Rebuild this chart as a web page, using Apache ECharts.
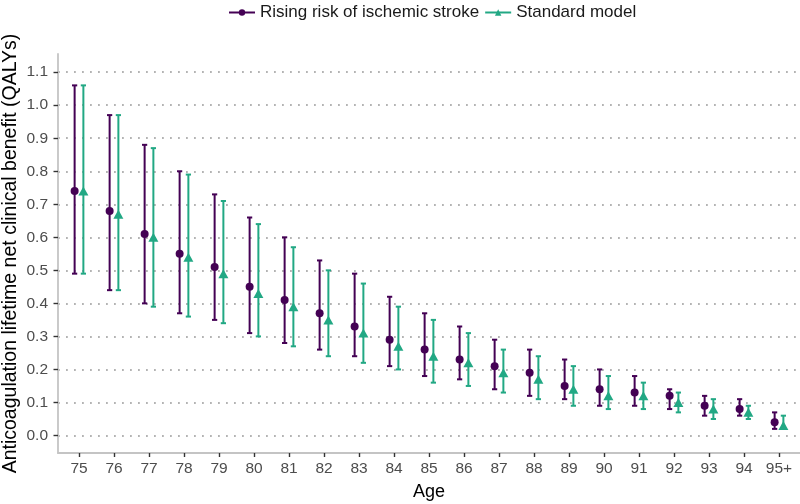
<!DOCTYPE html>
<html lang="en">
<head>
    <meta charset="UTF-8">
    <title>Anticoagulation net clinical benefit by age</title>
    <script src="https://cdn.jsdelivr.net/npm/echarts@6/dist/echarts.min.js"></script>
    <style>
        html, body { margin: 0; padding: 0; background: #fff; }
        #chart { width: 800px; height: 504px; }
    </style>
</head>
<body>
    <div id="chart"></div>

    <script>
    // data
    var ages = ['75', '76', '77', '78', '79', '80', '81', '82', '83', '84', '85',
                '86', '87', '88', '89', '90', '91', '92', '93', '94', '95+'];

    var risingMid  = [0.74, 0.68, 0.61, 0.55, 0.51, 0.45, 0.41, 0.37, 0.33, 0.29, 0.26,
                      0.23, 0.21, 0.19, 0.15, 0.14, 0.13, 0.12, 0.09, 0.08, 0.04];
    var risingLow  = [0.49, 0.44, 0.40, 0.37, 0.35, 0.31, 0.28, 0.26, 0.24, 0.21, 0.18,
                      0.17, 0.14, 0.12, 0.11, 0.09, 0.09, 0.08, 0.06, 0.06, 0.02];
    var risingHigh = [1.06, 0.97, 0.88, 0.80, 0.73, 0.66, 0.60, 0.53, 0.49, 0.42, 0.37,
                      0.33, 0.29, 0.26, 0.23, 0.20, 0.18, 0.14, 0.12, 0.11, 0.07];

    var stdMid  = [0.74, 0.67, 0.60, 0.54, 0.49, 0.43, 0.39, 0.35, 0.31, 0.27, 0.24,
                   0.22, 0.19, 0.17, 0.14, 0.12, 0.12, 0.10, 0.08, 0.07, 0.03];
    var stdLow  = [0.49, 0.44, 0.39, 0.36, 0.34, 0.30, 0.27, 0.24, 0.22, 0.20, 0.16,
                   0.15, 0.13, 0.11, 0.09, 0.08, 0.08, 0.07, 0.05, 0.05, 0.02];
    var stdHigh = [1.06, 0.97, 0.87, 0.79, 0.71, 0.64, 0.57, 0.50, 0.46, 0.39, 0.35,
                   0.31, 0.26, 0.24, 0.21, 0.18, 0.16, 0.13, 0.11, 0.09, 0.06];

    var yTicks = [0, 0.1, 0.2, 0.3, 0.4, 0.5, 0.6, 0.7, 0.8, 0.9, 1.0, 1.1];

    var PURPLE = '#440154';
    var GREEN = '#22a884';
    var DODGE = 0.125;
    var FONT = 'Liberation Sans';

    var xTicks = ages.map(function (a, i) { return i + 1; });

    function points(mid, shift) {
        return mid.map(function (v, i) { return [i + 1 + shift, v]; });
    }
    function bars(lo, hi, shift) {
        return lo.map(function (v, i) { return [i + 1 + shift, v, hi[i]]; });
    }

    function errorBar(color) {
        return function (params, api) {
            var x = api.value(0);
            var pLo = api.coord([x, api.value(1)]);
            var pHi = api.coord([x, api.value(2)]);
            var w = 2.6;
            var st = { stroke: color, lineWidth: 2 };
            return {
                type: 'group',
                children: [
                    { type: 'line', shape: { x1: pLo[0], y1: pLo[1], x2: pHi[0], y2: pHi[1] }, style: st },
                    { type: 'line', shape: { x1: pHi[0] - w, y1: pHi[1], x2: pHi[0] + w, y2: pHi[1] }, style: st },
                    { type: 'line', shape: { x1: pLo[0] - w, y1: pLo[1], x2: pLo[0] + w, y2: pLo[1] }, style: st }
                ]
            };
        };
    }

    var myChart = echarts.init(document.getElementById('chart'));
    var option = {
        animation: false,
        backgroundColor: '#fff',
        textStyle: { fontFamily: FONT },
        legend: {
            left: 228,
            top: 4,
            padding: 0,
            itemWidth: 26,
            itemHeight: 8,
            itemGap: 5,
            lineStyle: { width: 2 },
            textStyle: { fontFamily: FONT, fontSize: 17, color: '#1a1a1a' },
            data: ['Rising risk of ischemic stroke', 'Standard model']
        },
        grid: {
            left: 58,
            right: 0,
            top: 54,
            bottom: 51,
            containLabel: false,
            outerBoundsMode: 'none'
        },
        xAxis: {
            type: 'value',
            min: 0.4,
            max: 21.6,
            name: 'Age',
            nameLocation: 'middle',
            nameGap: 30,
            nameMoveOverlap: false,
            nameTextStyle: { fontFamily: FONT, fontSize: 18, color: '#000' },
            axisLine: { show: true, onZero: false, lineStyle: { color: '#c4c4c4', width: 1.8 } },
            axisTick: { show: true, length: 4, customValues: xTicks, lineStyle: { color: '#333', width: 1.4 } },
            axisLabel: {
                customValues: xTicks,
                margin: 8,
                fontFamily: FONT,
                fontSize: 15.5,
                color: '#4d4d4d',
                formatter: function (v) { return ages[Math.round(v) - 1]; }
            },
            splitLine: { show: false }
        },
        yAxis: {
            type: 'value',
            min: -0.053,
            max: 1.155,
            name: 'Anticoagulation lifetime net clinical benefit (QALYs)',
            nameLocation: 'middle',
            nameGap: 37,
            nameMoveOverlap: false,
            nameTextStyle: { fontFamily: FONT, fontSize: 19.5, color: '#000' },
            axisLine: { show: true, onZero: false, lineStyle: { color: '#c4c4c4', width: 1.8 } },
            axisTick: { show: true, length: 4.5, customValues: yTicks, lineStyle: { color: '#333', width: 1.4 } },
            axisLabel: {
                customValues: yTicks,
                margin: 10,
                fontFamily: FONT,
                fontSize: 15.5,
                color: '#4d4d4d',
                formatter: function (v) { return v.toFixed(1); }
            },
            splitLine: {
                show: true,
                lineStyle: { color: '#b3b3b3', width: 1.8, type: [1.8, 6.2] }
            }
        },
        series: [
            {
                type: 'custom',
                renderItem: errorBar(PURPLE),
                data: bars(risingLow, risingHigh, -DODGE),
                encode: { x: 0, y: [1, 2] },
                silent: true,
                z: 2
            },
            {
                type: 'custom',
                renderItem: errorBar(GREEN),
                data: bars(stdLow, stdHigh, DODGE),
                encode: { x: 0, y: [1, 2] },
                silent: true,
                z: 2
            },
            {
                name: 'Rising risk of ischemic stroke',
                type: 'line',
                data: points(risingMid, -DODGE),
                symbol: 'circle',
                symbolSize: 8,
                showSymbol: true,
                itemStyle: { color: PURPLE },
                lineStyle: { width: 0, color: PURPLE },
                z: 3
            },
            {
                name: 'Standard model',
                type: 'line',
                data: points(stdMid, DODGE),
                symbol: 'triangle',
                symbolSize: [10, 9],
                showSymbol: true,
                itemStyle: { color: GREEN },
                lineStyle: { width: 0, color: GREEN },
                z: 3
            }
        ]
    };
    myChart.setOption(option);
    </script>
</body>
</html>
